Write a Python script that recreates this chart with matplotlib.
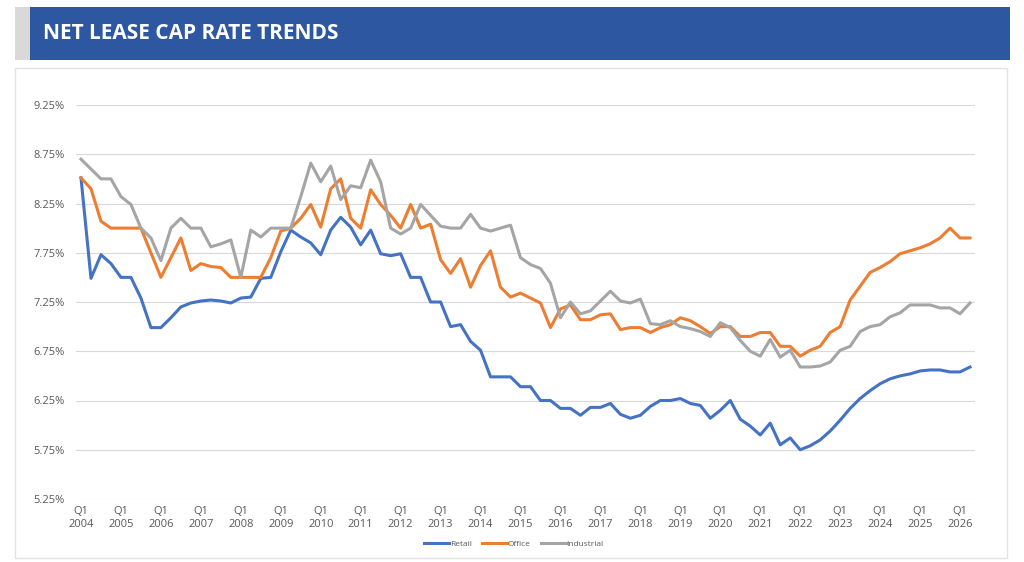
import matplotlib.pyplot as plt
from matplotlib.patches import Rectangle
from matplotlib.lines import Line2D

plt.rcParams['font.family'] = ['Open Sans', 'DejaVu Sans']

# quarterly cap rates, Q1 2004 .. Q2 2026
years = list(range(2004, 2027))
retail = [8.51, 7.49, 7.73, 7.64, 7.50, 7.50, 7.29, 6.99, 6.99, 7.09,
          7.20, 7.24, 7.26, 7.27, 7.26, 7.24, 7.29, 7.30, 7.49, 7.50,
          7.76, 7.98, 7.91, 7.85, 7.73, 7.98, 8.11, 8.01, 7.83, 7.98,
          7.74, 7.72, 7.74, 7.50, 7.50, 7.25, 7.25, 7.00, 7.02, 6.85,
          6.76, 6.49, 6.49, 6.49, 6.39, 6.39, 6.25, 6.25, 6.17, 6.17,
          6.10, 6.18, 6.18, 6.22, 6.11, 6.07, 6.10, 6.19, 6.25, 6.25,
          6.27, 6.22, 6.20, 6.07, 6.15, 6.25, 6.06, 5.99, 5.90, 6.02,
          5.80, 5.87, 5.75, 5.79, 5.85, 5.94, 6.05, 6.17, 6.27, 6.35,
          6.42, 6.47, 6.50, 6.52, 6.55, 6.56, 6.56, 6.54, 6.54, 6.59]
office = [8.51, 8.40, 8.07, 8.00, 8.00, 8.00, 8.00, 7.75, 7.50, 7.70,
          7.90, 7.57, 7.64, 7.61, 7.60, 7.50, 7.50, 7.50, 7.50, 7.70,
          7.97, 8.00, 8.10, 8.24, 8.01, 8.40, 8.50, 8.10, 8.00, 8.39,
          8.24, 8.13, 8.00, 8.24, 8.00, 8.04, 7.68, 7.54, 7.69, 7.40,
          7.62, 7.77, 7.40, 7.30, 7.34, 7.29, 7.24, 6.99, 7.18, 7.22,
          7.07, 7.07, 7.12, 7.13, 6.97, 6.99, 6.99, 6.94, 6.99, 7.02,
          7.09, 7.06, 7.00, 6.93, 7.00, 7.00, 6.90, 6.90, 6.94, 6.94,
          6.80, 6.80, 6.70, 6.76, 6.80, 6.94, 7.00, 7.27, 7.41, 7.55,
          7.60, 7.66, 7.74, 7.77, 7.80, 7.84, 7.90, 8.00, 7.90, 7.90]
industrial = [8.70, 8.60, 8.50, 8.50, 8.32, 8.24, 8.00, 7.90, 7.67, 8.00,
              8.10, 8.00, 8.00, 7.81, 7.84, 7.88, 7.50, 7.98, 7.91, 8.00,
              8.00, 8.00, 8.32, 8.66, 8.47, 8.63, 8.29, 8.43, 8.41, 8.69,
              8.47, 8.00, 7.94, 8.00, 8.24, 8.13, 8.02, 8.00, 8.00, 8.14,
              8.00, 7.97, 8.00, 8.03, 7.70, 7.63, 7.59, 7.44, 7.09, 7.25,
              7.13, 7.16, 7.26, 7.36, 7.26, 7.24, 7.28, 7.03, 7.02, 7.06,
              7.00, 6.98, 6.95, 6.90, 7.04, 6.99, 6.86, 6.75, 6.70, 6.87,
              6.69, 6.76, 6.59, 6.59, 6.60, 6.64, 6.76, 6.80, 6.95, 7.00,
              7.02, 7.10, 7.14, 7.22, 7.22, 7.22, 7.19, 7.19, 7.13, 7.24]
y_ticks = [5.25, 5.75, 6.25, 6.75, 7.25, 7.75, 8.25, 8.75, 9.25]

W, H = 1024, 562
fig = plt.figure(figsize=(W / 100, H / 100), dpi=100)

# header bar
fig.patches.append(Rectangle((15 / W, 1 - 60 / H), 15 / W, 53 / H,
                             transform=fig.transFigure, facecolor='#D9D9D9', edgecolor='none'))
fig.patches.append(Rectangle((30 / W, 1 - 60 / H), 980 / W, 53 / H,
                             transform=fig.transFigure, facecolor='#2E57A1', edgecolor='none'))
fig.text(43 / W, 1 - 33.5 / H, 'NET LEASE CAP RATE TRENDS', color='white',
         fontsize=15, fontweight='bold', va='center', ha='left')

# chart frame
fig.patches.append(Rectangle((15 / W, 1 - 558 / H), 992 / W, 490 / H,
                             transform=fig.transFigure, facecolor='none',
                             edgecolor='#E3E3E3', linewidth=1))

ax = fig.add_axes([76 / W, 1 - 499 / H, 899 / W, 394 / H])
x = list(range(len(retail)))
colors = {'Retail': '#4472C4', 'Office': '#ED7D31', 'Industrial': '#A5A5A5'}
for name, vals in [('Retail', retail), ('Office', office), ('Industrial', industrial)]:
    ax.plot(x, vals, color=colors[name], linewidth=2.2, solid_joinstyle='round')

ax.set_xlim(-0.5, len(retail) - 0.5)
ax.set_ylim(5.25, 9.25)
ax.set_yticks(y_ticks)
ax.set_yticklabels(['%.2f%%' % v for v in y_ticks])
ax.set_xticks([4 * k for k in range(len(years))])
ax.set_xticklabels(['Q1\n%d' % yr for yr in years], linespacing=1.2)
ax.grid(axis='y', color='#D9D9D9', linewidth=0.8)
ax.set_axisbelow(True)
for s in ax.spines.values():
    s.set_visible(False)
ax.tick_params(length=0, labelsize=8, colors='#595959', pad=8)
ax.tick_params(axis='x', pad=5)

handles = [Line2D([0], [0], color=colors[n], linewidth=2.2) for n in colors]
fig.legend(handles, list(colors), loc='center', bbox_to_anchor=(514 / W, 1 - 544 / H),
           ncol=3, frameon=False, fontsize=6, handlelength=3.0, handletextpad=0.1,
           columnspacing=1.2, labelcolor='#595959')

fig.savefig('out.png', dpi=100)
